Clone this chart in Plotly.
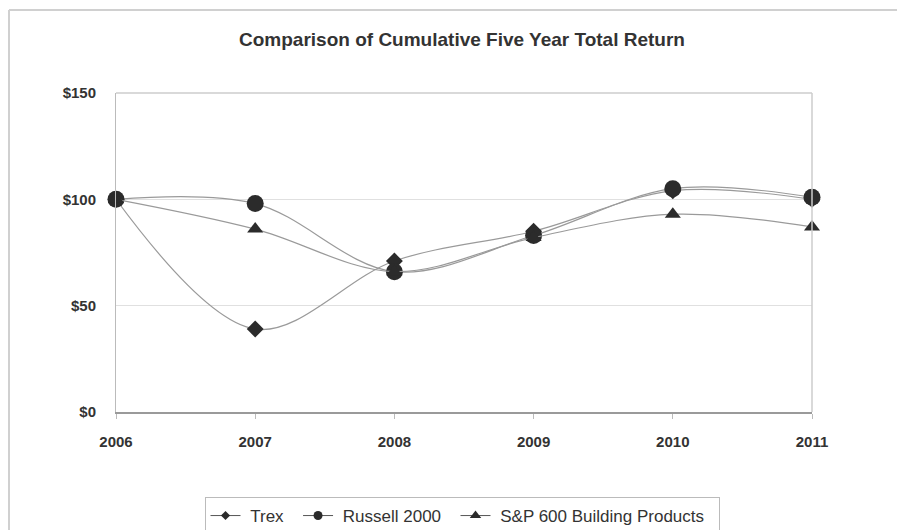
import plotly.graph_objects as go

years = [2006, 2007, 2008, 2009, 2010, 2011]
trex = [100, 39, 71, 85, 104, 100]
russell = [100, 98, 66, 83, 105, 101]
sp600 = [100, 86, 66, 82, 93, 87]
series_names = ["Trex", "Russell 2000", "S&P 600 Building Products"]
y_ticks = [0, 50, 100, 150]
y_labels = ["$0", "$50", "$100", "$150"]

line_color = "#9a9a9a"
marker_color = "#2b2b2b"
FONT = "Liberation Sans, Arial, sans-serif"
NB = "\u00a0"

# page body has an 8px margin, so convert screen coords to figure coords
OFF = 8
W, H = 905 - OFF, 530 - OFF
sx = lambda x: x - OFF
sy = lambda y: y - OFF

L = sx(116)
T = sy(93)
R = W - sx(812)
B = H - sy(412)
pw, ph = W - L - R, H - T - B

def px_x(x):
    return (sx(x) - L) / pw

def px_y(y):
    return (H - B - sy(y)) / ph

fig = go.Figure()
series = [
    (series_names[0], trex, "diamond", 13, 7),
    (series_names[1], russell, "circle", 17, 9),
    (series_names[2], sp600, "triangle-up", 14, 10),
]
for name, vals, sym, size, lsize in series:
    fig.add_trace(go.Scatter(
        x=years, y=vals, name=name, mode="lines+markers", showlegend=False,
        cliponaxis=False,
        line=dict(color=line_color, width=1.2, shape="spline", smoothing=1.0),
        marker=dict(symbol=sym, size=size, color=marker_color),
    ))
for name, vals, sym, size, lsize in series:
    fig.add_trace(go.Scatter(
        x=[None], y=[None], name=NB + name + NB + NB, mode="lines+markers",
        line=dict(color="#555555", width=1),
        marker=dict(symbol=sym, size=lsize, color=marker_color),
    ))

fig.update_layout(
    width=W, height=H,
    margin=dict(l=L, r=R, t=T, b=B, autoexpand=False),
    paper_bgcolor="white", plot_bgcolor="white",
    title=dict(text="<b>Comparison of Cumulative Five Year Total Return</b>",
               x=px_x(462), xref="paper", xanchor="center",
               y=1 - sy(39) / H, yanchor="middle",
               font=dict(family=FONT, size=19, color="#333333")),
    font=dict(family=FONT, color="#333333"),
    xaxis=dict(range=[2006, 2011], tickvals=years, ticktext=[f"<b>{y}</b>" for y in years],
               showgrid=False, zeroline=False, showline=True, linecolor="#9a9a9a", linewidth=1.5,
               ticks="outside", ticklen=5, tickcolor="#bbbbbb",
               ticklabelstandoff=10,
               tickfont=dict(family=FONT, size=15, color="#333333")),
    yaxis=dict(range=[0, 150], tickvals=y_ticks, ticktext=[f"<b>{t}</b>" for t in y_labels],
               showgrid=True, gridcolor="#e0e0e0", gridwidth=1, zeroline=False,
               showline=True, linecolor="#bbbbbb", linewidth=1, ticks="",
               ticklabelstandoff=16,
               tickfont=dict(family=FONT, size=15, color="#333333")),
    legend=dict(orientation="h", x=px_x(462), xanchor="center", y=px_y(497), yanchor="top",
                bordercolor="#bbbbbb", borderwidth=1,
                font=dict(family=FONT, size=17, color="#333333"),
                itemwidth=30, tracegroupgap=0),
)

# plot area top and right border
fig.add_shape(type="line", xref="paper", yref="paper", x0=0, x1=1, y0=1, y1=1,
              line=dict(color="#cccccc", width=1.5))
fig.add_shape(type="line", xref="paper", yref="paper", x0=1, x1=1, y0=0, y1=1,
              line=dict(color="#cccccc", width=1.5))
# outer frame (top and left)
fig.add_shape(type="line", xref="paper", yref="paper", x0=px_x(9), x1=px_x(910),
              y0=px_y(10), y1=px_y(10), line=dict(color="#d0d0d0", width=2))
fig.add_shape(type="line", xref="paper", yref="paper", x0=px_x(9), x1=px_x(9),
              y0=px_y(10), y1=px_y(540), line=dict(color="#d0d0d0", width=2))

fig.write_html("out.html")
